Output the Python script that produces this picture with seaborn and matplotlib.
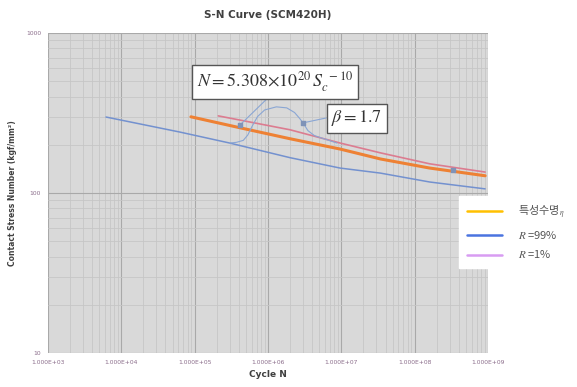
import numpy as np
import pandas as pd
import seaborn as sns
import matplotlib.pyplot as plt
from matplotlib.lines import Line2D
from matplotlib.ticker import FuncFormatter, LogLocator, NullFormatter

# values
cycles_eta = [8.9e4, 4.2e5, 2.0e6, 9.6e6, 3.4e7, 1.6e8, 9.1e8]
stress_eta = [299, 255, 218, 188, 163, 143, 128]

cycles_r1 = [2.1e5, 2.0e6, 9.6e6, 3.4e7, 1.6e8, 9.1e8]
stress_r1 = [303, 248, 205, 178, 152, 135]

cycles_r99 = [6.2e3, 6.3e4, 3.0e5, 2.0e6, 9.6e6, 3.4e7, 1.6e8, 9.1e8]
stress_r99 = [298, 240, 205, 166, 143, 133, 117, 106]

x_ticks = [1e3, 1e4, 1e5, 1e6, 1e7, 1e8, 1e9]
y_ticks = [10, 100, 1000]

# callout connectors drawn on top of the chart
callout_a_n = [1.0e6, 4.16e5]
callout_a_s = [393, 266]
callout_b_n = [3.0e5, 3.7e5, 4.6e5, 5.3e5, 6.1e5, 7.2e5, 9.0e5, 1.3e6, 1.8e6, 2.3e6, 2.7e6, 3.0e6, 6.2e6]
callout_b_s = [205, 207, 213, 230, 262, 300, 330, 345, 340, 318, 292, 274, 294]
callout_c_n = [3.0e6, 3.5e6, 4.3e6, 8.7e6]
callout_c_s = [274, 245, 228, 205]
marker_n = [4.16e5, 3.0e6, 3.35e8]
marker_s = [266, 274, 139]

legend_labels = ['특성수명$_\\eta$', '$\\it{R}$ =99%', '$\\it{R}$ =1%']

sns.set_theme(style='white')
plt.rcParams['font.family'] = ['DejaVu Sans', 'Noto Sans CJK KR']
plt.rcParams['mathtext.fontset'] = 'stix'

fig = plt.figure(figsize=(5.77, 3.87), dpi=100)
ax = fig.add_axes([0.083, 0.088, 0.763, 0.827])
ax.set_xscale('log')
ax.set_yscale('log')
ax.set_xlim(1e3, 1e9)
ax.set_ylim(10, 1000)
ax.set_facecolor('#d9d9d9')
for s in ax.spines.values():
    s.set_visible(False)

ax.set_xticks(x_ticks)
ax.set_yticks(y_ticks)
ax.xaxis.set_minor_locator(LogLocator(base=10, subs=np.arange(2, 10), numticks=20))
ax.yaxis.set_minor_locator(LogLocator(base=10, subs=np.arange(2, 10), numticks=20))
ax.xaxis.set_minor_formatter(NullFormatter())
ax.yaxis.set_minor_formatter(NullFormatter())
ax.grid(True, which='major', color='#a9a9a9', lw=0.8)
ax.grid(True, which='minor', color='#c6c6c6', lw=0.6)
ax.set_axisbelow(True)

df_r99 = pd.DataFrame({'N': cycles_r99, 'S': stress_r99})
df_eta = pd.DataFrame({'N': cycles_eta, 'S': stress_eta})
df_r1 = pd.DataFrame({'N': cycles_r1, 'S': stress_r1})
sns.lineplot(data=df_r99, x='N', y='S', ax=ax, color='#7391cf', lw=1.1, zorder=3)
sns.lineplot(data=df_r1, x='N', y='S', ax=ax, color='#dc7c90', lw=1.2, zorder=3)
sns.lineplot(data=df_eta, x='N', y='S', ax=ax, color='#ee8134', lw=2.2, zorder=4)

ax.plot(callout_a_n, callout_a_s, color='#8aa6d4', lw=0.8, zorder=5)
ax.plot(callout_b_n, callout_b_s, color='#8aa6d4', lw=0.8, zorder=5)
ax.plot(callout_c_n, callout_c_s, color='#8aa6d4', lw=0.8, zorder=5)
ax.scatter(marker_n, marker_s, marker='s', s=8, color='#7f93b8', zorder=6)

box = dict(boxstyle='square,pad=0.25', fc='white', ec='#555555', lw=1.0)
ax.text(0.516, 0.847, r'$N=5.308{\times}10^{20}\,S_c^{\ -10}$', transform=ax.transAxes,
        ha='center', va='center', fontsize=13, color='#333333', bbox=box, zorder=7)
ax.text(0.702, 0.734, r'$\beta=1.7$', transform=ax.transAxes,
        ha='center', va='center', fontsize=13, color='#333333', bbox=box, zorder=7)

ax.xaxis.set_major_formatter(FuncFormatter(lambda v, p: f'{v:.3E}'))
ax.yaxis.set_major_formatter(FuncFormatter(lambda v, p: f'{v:.0f}'))
ax.tick_params(which='both', length=0, labelsize=4.3, colors='#8a6c8a', pad=5)

ax.set_title('S-N Curve (SCM420H)', fontsize=7.5, fontweight='bold', color='#404040', pad=11)
ax.set_xlabel('Cycle N', fontsize=6.5, fontweight='bold', color='#404040', labelpad=4)
ax.set_ylabel('Contact Stress Number (kgf/mm²)', fontsize=5.5, fontweight='bold',
              color='#404040', labelpad=6)

handles = [Line2D([], [], color='#ffc000', lw=1.8),
           Line2D([], [], color='#4a74e0', lw=1.8),
           Line2D([], [], color='#d89cf2', lw=1.8)]
leg = fig.legend(handles, legend_labels, loc='upper left', bbox_to_anchor=(0.786, 0.508),
                 frameon=True, fancybox=False, framealpha=1, edgecolor='white',
                 handlelength=3.2, handletextpad=1.4, labelspacing=0.7, borderpad=0.7,
                 prop={'family': ['Noto Sans CJK KR', 'DejaVu Sans'], 'size': 8})
for t in leg.get_texts():
    t.set_color('#555555')

fig.savefig('out.png', dpi=100)
